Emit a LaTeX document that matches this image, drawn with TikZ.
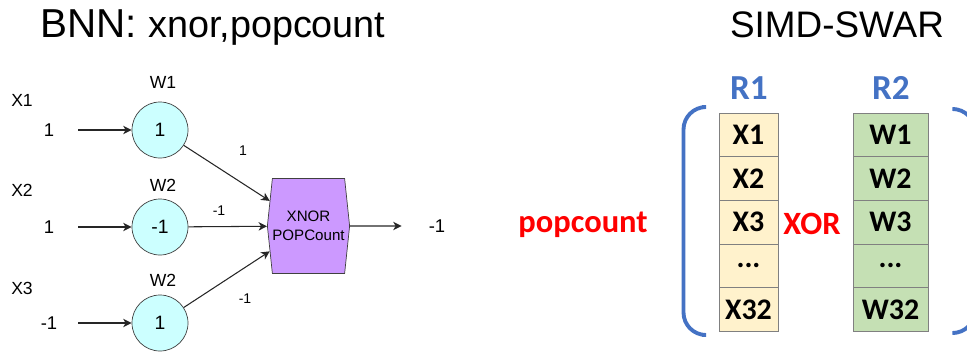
\documentclass[tikz,border=0pt]{standalone}
\usepackage{fontspec}
\setmainfont{Liberation Sans}
\newfontfamily\carlito{Carlito}
\usetikzlibrary{arrows.meta, positioning, shapes}

\definecolor{neuroncol}{HTML}{CCFFFF}
\definecolor{gatecol}{HTML}{CC99FF}
\definecolor{regAcol}{HTML}{FFF2CC}
\definecolor{regBcol}{HTML}{C5E0B4}
\definecolor{regblue}{HTML}{4472C4}
\newcommand{\skipdots}{...}

\begin{document}
\begin{tikzpicture}[
  neuron/.style={circle, draw=black!75, fill=neuroncol, minimum size=1.12cm, inner sep=0pt, font=\fontsize{11}{13}\selectfont},
  invalue/.style={inner sep=0pt, minimum width=1.16cm, font=\fontsize{10.5}{12}\selectfont},
  smalltxt/.style={inner sep=0pt, font=\fontsize{10}{12}\selectfont},
  edgelbl/.style={inner sep=0pt, font=\fontsize{8}{10}\selectfont},
  link/.style={draw=black!85, line width=0.6pt, -{Stealth[length=1.7mm, width=1.7mm, inset=0.5mm]}},
  cellA/.style={draw=black!50, fill=regAcol, minimum width=1.18cm, minimum height=0.873cm, inner sep=0pt, font=\carlito\bfseries\fontsize{17}{20}\selectfont},
  cellB/.style={cellA, fill=regBcol, minimum width=1.5cm},
  reglbl/.style={inner sep=0pt, text=regblue, font=\carlito\bfseries\fontsize{20}{24}\selectfont},
  redlbl/.style={inner sep=0pt, text=red, font=\carlito\bfseries\fontsize{18.5}{22}\selectfont},
  paren/.style={draw=regblue, line width=2.2pt, rounded corners=0.45cm}
]
\clip (0,0) rectangle (19.34,7.06);

% Titles
\node[anchor=base west, inner sep=0pt] (bnn) at (0.8,6.32) {\fontsize{23}{27}\selectfont BNN: \fontsize{21.5}{25}\selectfont xnor,popcount};
\node[anchor=base, inner sep=0pt] (simd) at (16.74,6.32) {\fontsize{21}{25}\selectfont SIMD-SWAR};

% Neurons
\node[neuron] (w1) at (3.2,4.46) {1};
\node[neuron] (w2) at (3.2,2.52) {-1};
\node[neuron] (w3) at (3.2,0.6) {1};
\node[smalltxt] (lw1) at (3.26,5.42) {W1};
\node[smalltxt] (lw2) at (3.26,3.36) {W2};
\node[smalltxt] (lw3) at (3.26,1.46) {W2};

% Inputs
\node[smalltxt] (lx1) at (0.44,5.06) {X1};
\node[smalltxt] (lx2) at (0.44,3.26) {X2};
\node[smalltxt] (lx3) at (0.44,1.3) {X3};
\node[invalue] (in1) at (0.98,4.46) {1};
\node[invalue] (in2) at (0.98,2.52) {1};
\node[invalue] (in3) at (0.98,0.6) {-1};
\draw[link] (in1) -- (w1);
\draw[link] (in2) -- (w2);
\draw[link] (in3) -- (w3);

% XNOR / popcount block
\node[signal, signal to=east and west, signal pointer angle=168, draw=black!75, fill=gatecol,
  minimum width=1.52cm, minimum height=1.9cm, inner sep=0pt, align=center,
  font=\fontsize{8.6}{10.5}\selectfont] (pc) at (6.17,2.54) {XNOR\\POPCount};
\draw[link] (w1) -- (pc);
\draw[link] (w2) -- (pc);
\draw[link] (w3) -- (pc);
\node[edgelbl] (e1) at (4.86,4.04) {1};
\node[edgelbl] (e2) at (4.38,2.84) {-1};
\node[edgelbl] (e3) at (4.9,1.08) {-1};

% Output
\node[invalue, minimum width=1.4cm] (out) at (8.74,2.54) {-1};
\draw[link] (pc) -- (out);

% Registers
\node[reglbl] (r1) at (14.98,5.3) {R1};
\node[reglbl] (r2) at (17.82,5.3) {R2};
\foreach \xa/\wa [count=\i] in {X1/W1, X2/W2, X3/W3, \skipdots/\skipdots, X32/W32} {
  \node[cellA] (r1c\i) at (14.97,{4.36-0.873*(\i-1)}) {\xa};
  \node[cellB] (r2c\i) at (17.81,{4.36-0.873*(\i-1)}) {\wa};
}
\node[redlbl] (xor) at (16.24,2.58) {XOR};
\node[redlbl] (pop) at (11.66,2.56) {popcount};

% Brackets
\draw[paren] (14.04,4.92) -- (13.67,4.92) -- (13.67,0.36) -- (14.04,0.36);
\draw[paren] (19.1,4.88) -- (19.5,4.88) -- (19.5,0.4) -- (19.1,0.4);
\end{tikzpicture}
\end{document}
